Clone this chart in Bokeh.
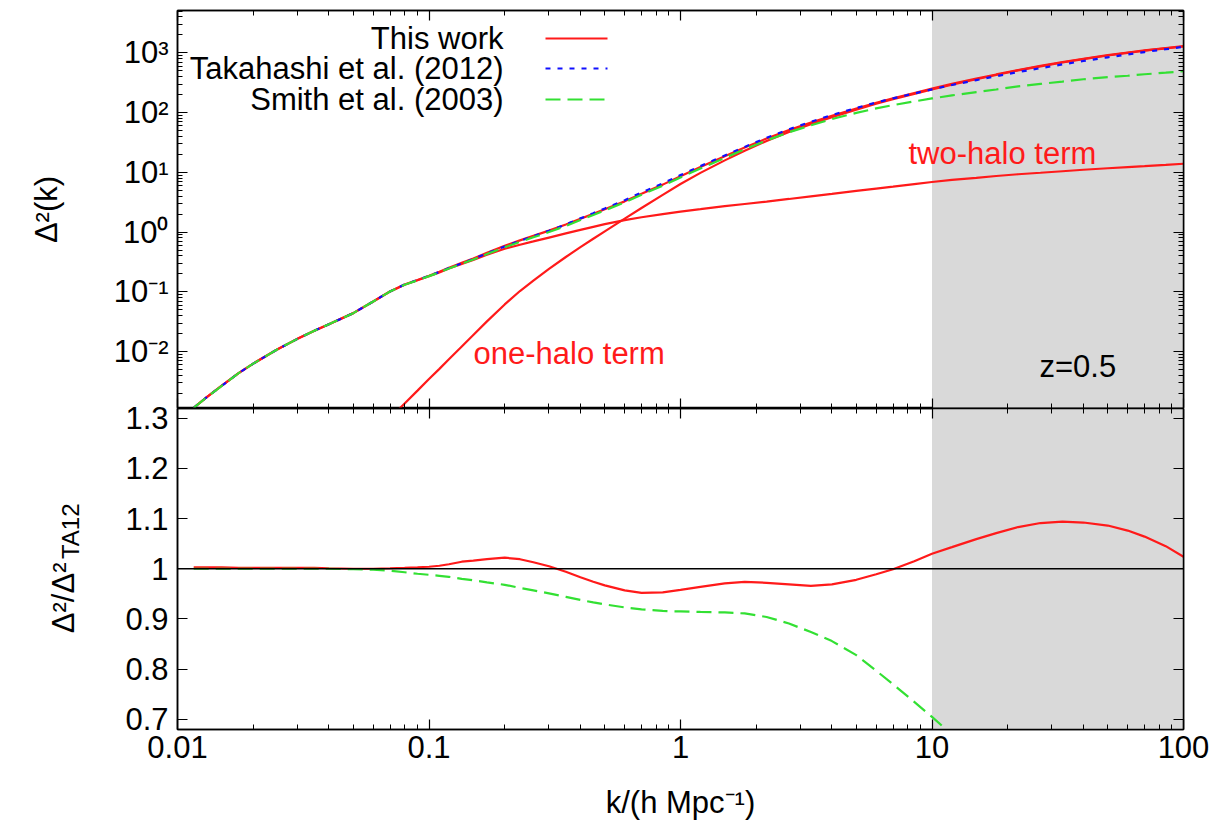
import math
from bokeh.plotting import figure
from bokeh.models import (Range1d, FixedTicker, LogAxis, LinearAxis, BoxAnnotation,
                          Span, Label, Arrow, CustomJSTickFormatter)
from bokeh.layouts import column, row
from bokeh.embed import file_html
from bokeh.resources import INLINE

# ---------------- data ----------------
k = [0.0116, 0.013, 0.015, 0.0175, 0.02, 0.025, 0.03, 0.035, 0.04, 0.05,
     0.06, 0.07, 0.08, 0.09, 0.1, 0.11, 0.12, 0.135, 0.15, 0.17,
     0.2, 0.23, 0.26, 0.3, 0.35, 0.4, 0.45, 0.5, 0.6, 0.7,
     0.85, 1.0, 1.2, 1.5, 1.8, 2.2, 2.7, 3.3, 4.0, 5.0,
     6.0, 7.0, 8.5, 10.0, 12.0, 15.0, 18.0, 22.0, 27.0, 33.0,
     40.0, 50.0, 60.0, 70.0, 85.0, 100.0]

d2_takahashi = [0.00115, 0.0017, 0.00269, 0.00437, 0.00631, 0.011, 0.0164, 0.0224, 0.0288, 0.0442,
                0.0692, 0.102, 0.133, 0.158, 0.186, 0.216, 0.251, 0.302, 0.357, 0.442,
                0.578, 0.716, 0.857, 1.057, 1.349, 1.702, 2.08, 2.495, 3.428, 4.624,
                6.561, 9.016, 12.74, 19.23, 26.73, 38.02, 52.72, 70.47, 91.41, 119.9,
                147.9, 173.8, 209.9, 245.5, 290.4, 350.8, 407.4, 478.6, 555.9, 642.7,
                732.8, 845.3, 944.1, 1035.0, 1153.0, 1265.0]

ratio_this_work = [1.003, 1.003, 1.003, 1.002, 1.002, 1.002, 1.002, 1.002, 1.001, 1.000,
                   1.000, 1.001, 1.002, 1.003, 1.004, 1.006, 1.009, 1.014, 1.016, 1.019,
                   1.022, 1.019, 1.013, 1.005, 0.994, 0.983, 0.974, 0.967, 0.957, 0.952,
                   0.953, 0.958, 0.964, 0.971, 0.974, 0.972, 0.969, 0.966, 0.969, 0.978,
                   0.989, 0.999, 1.015, 1.030, 1.043, 1.059, 1.071, 1.083, 1.091, 1.094,
                   1.092, 1.086, 1.076, 1.064, 1.045, 1.024]

ratio_smith = [1.000, 1.000, 1.000, 1.000, 1.000, 1.000, 1.000, 1.000, 1.000, 0.999,
               0.998, 0.996, 0.993, 0.990, 0.988, 0.986, 0.984, 0.980, 0.977, 0.973,
               0.968, 0.962, 0.957, 0.951, 0.944, 0.938, 0.933, 0.929, 0.923, 0.919,
               0.916, 0.915, 0.914, 0.913, 0.911, 0.904, 0.891, 0.874, 0.856, 0.828,
               0.797, 0.770, 0.735, 0.705, 0.670, 0.630, 0.600, 0.575, 0.545, 0.515,
               0.495, 0.465, 0.440, 0.425, 0.405, 0.390]

d2_two_halo = [0.00115, 0.0017, 0.0027, 0.00437, 0.00632, 0.011, 0.0164, 0.0224, 0.0289, 0.0442,
               0.0692, 0.1016, 0.1323, 0.1568, 0.1834, 0.2124, 0.246, 0.294, 0.344, 0.418,
               0.529, 0.617, 0.70, 0.813, 0.955, 1.096, 1.23, 1.365, 1.592, 1.778,
               2.004, 2.213, 2.427, 2.723, 2.965, 3.258, 3.597, 3.981, 4.375, 4.898,
               5.37, 5.794, 6.383, 6.918, 7.499, 8.128, 8.71, 9.333, 9.886, 10.47,
               11.09, 11.75, 12.3, 12.74, 13.34, 13.96]

k_one_halo = [0.07, 0.08, 0.09, 0.1, 0.11, 0.12, 0.135, 0.15, 0.17, 0.2,
              0.23, 0.26, 0.3, 0.35, 0.4, 0.45, 0.5, 0.6, 0.7, 0.85,
              1.0, 1.2, 1.5, 1.8, 2.2, 2.7, 3.3, 4.0, 5.0, 6.0,
              7.0, 8.5, 10.0, 12.0, 15.0, 18.0, 22.0, 27.0, 33.0, 40.0,
              50.0, 60.0, 70.0, 85.0, 100.0]
d2_one_halo = [0.000776, 0.00136, 0.00223, 0.00348, 0.00516, 0.00746, 0.01222, 0.01905, 0.03214, 0.0618,
               0.1035, 0.1549, 0.2427, 0.3846, 0.5623, 0.7762, 1.033, 1.690, 2.541, 4.217,
               6.397, 9.83, 15.92, 23.07, 33.65, 47.42, 63.97, 84.14, 112.2, 140.9,
               167.9, 206.5, 246.0, 295.1, 363.1, 427.6, 509.3, 597.0, 691.8, 788.9,
               905.7, 1003.5, 1089.0, 1191.0, 1281.0]

# top-panel curves of this work and of Smith et al. follow from the ratios
d2_this_work = [t * r for t, r in zip(d2_takahashi, ratio_this_work)]
d2_smith = [t * r for t, r in zip(d2_takahashi, ratio_smith)]

x_ticks = [0.01, 0.1, 1, 10, 100]
x_tick_labels = ["0.01", "0.1", "1", "10", "100"]
y_top_ticks = [0.01, 0.1, 1, 10, 100, 1000]
y_top_labels = ["10\u207b\u00b2", "10\u207b\u00b9", "10\u2070", "10\u00b9", "10\u00b2", "10\u00b3"]
y_bot_ticks = [0.7, 0.8, 0.9, 1.0, 1.1, 1.2, 1.3]
y_bot_labels = ["0.7", "0.8", "0.9", "1", "1.1", "1.2", "1.3"]
shade_start, shade_end = 10, 100
legend_names = ["This work", "Takahashi et al. (2012)", "Smith et al. (2003)"]

# ---------------- styles ----------------
FONT = "Liberation Sans"
FS = "31px"
RED, BLUE, GREEN = "#ff1a1a", "#1010ff", "#33e033"
GREY = "#d9d9d9"
BLUE_DASH, GREEN_DASH = "5 7", "15 7"
LW = 2.2

minor_x = [m * 10.0 ** e for e in range(-2, 2) for m in range(2, 10)]
minor_y = [m * 10.0 ** e for e in range(-3, 4) for m in range(2, 10)]
blank = CustomJSTickFormatter(code="return ''")


def style_axis(ax, labels=True):
    ax.major_tick_in = 10
    ax.major_tick_out = 0
    ax.minor_tick_in = 5
    ax.minor_tick_out = 0
    ax.axis_line_width = 1.5
    ax.major_tick_line_width = 1.2
    ax.minor_tick_line_width = 1.0
    ax.major_label_text_font = FONT
    ax.major_label_text_color = "black"
    if labels:
        ax.major_label_text_font_size = FS
    else:
        ax.formatter = blank
        ax.major_label_text_font_size = "0px"
        ax.major_label_standoff = 0


GUT = 90            # left strip that holds the rotated y titles
W = 1216 - GUT
SEAM = 8            # bottom canvas reaches this far over the top one (transparent)
x_range = Range1d(0.01, 100)

# ---------------- top panel ----------------
top = figure(width=W, height=408, x_axis_type="log", y_axis_type="log",
             x_range=x_range, y_range=Range1d(1.12e-3, 5.13e3),
             output_backend="svg", toolbar_location=None,
             min_border_left=177 - GUT, min_border_right=33, min_border_top=10, min_border_bottom=0)
top.grid.visible = False
top.outline_line_color = "black"
top.outline_line_width = 1.5
top.background_fill_color = "white"
top.border_fill_color = "white"

top.xaxis.ticker = FixedTicker(ticks=x_ticks, minor_ticks=minor_x)
style_axis(top.xaxis[0], labels=False)
top.yaxis.ticker = FixedTicker(ticks=y_top_ticks, minor_ticks=minor_y)
style_axis(top.yaxis[0])
top.yaxis.major_label_overrides = dict(zip(y_top_ticks, y_top_labels))
top.yaxis.major_label_standoff = 9

ax_r = LogAxis(ticker=FixedTicker(ticks=y_top_ticks, minor_ticks=minor_y))
style_axis(ax_r, labels=False)
top.add_layout(ax_r, "right")
ax_t = LogAxis(ticker=FixedTicker(ticks=x_ticks, minor_ticks=minor_x))
style_axis(ax_t, labels=False)
top.add_layout(ax_t, "above")

top.add_layout(BoxAnnotation(left=shade_start, right=shade_end, fill_color=GREY,
                             fill_alpha=1.0, line_color=None, level="underlay"))

top.line(k, d2_this_work, line_color=RED, line_width=LW)
top.line(k_one_halo, d2_one_halo, line_color=RED, line_width=LW)
top.line(k, d2_two_halo, line_color=RED, line_width=LW)
top.line(k, d2_takahashi, line_color=BLUE, line_width=LW, line_dash=BLUE_DASH)
top.line(k, d2_smith, line_color=GREEN, line_width=LW, line_dash=GREEN_DASH)

# legend (text on the left, sample line on the right, as in the original)
leg_y = [370, 340, 309]
leg_colors = [RED, BLUE, GREEN]
leg_dash = ["solid", BLUE_DASH, GREEN_DASH]
for name, yy, c, d in zip(legend_names, leg_y, leg_colors, leg_dash):
    top.add_layout(Label(x=326, y=yy, x_units="screen", y_units="screen", text=name,
                         text_align="right", text_baseline="middle",
                         text_font=FONT, text_font_size=FS, text_color="black"))
    top.add_layout(Arrow(x_start=368, y_start=yy, x_end=430, y_end=yy,
                         start_units="screen", end_units="screen", end=None,
                         line_color=c, line_width=LW, line_dash=d))

top.add_layout(Label(x=731, y=255, x_units="screen", y_units="screen", text="two-halo term",
                     text_align="left", text_baseline="middle",
                     text_font=FONT, text_font_size=FS, text_color=RED))
top.add_layout(Label(x=296, y=55, x_units="screen", y_units="screen", text="one-halo term",
                     text_align="left", text_baseline="middle",
                     text_font=FONT, text_font_size=FS, text_color=RED))
top.add_layout(Label(x=862, y=42, x_units="screen", y_units="screen", text="z=0.5",
                     text_align="left", text_baseline="middle",
                     text_font=FONT, text_font_size=FS, text_color="black"))

# ---------------- bottom panel ----------------
bot = figure(width=W, height=418 + SEAM, x_axis_type="log",
             x_range=x_range, y_range=Range1d(0.68, 1.319),
             output_backend="svg", toolbar_location=None,
             min_border_left=177 - GUT, min_border_right=33, min_border_top=SEAM, min_border_bottom=97,
             margin=(-SEAM, 0, 0, 0))
bot.grid.visible = False
bot.outline_line_color = "black"
bot.outline_line_width = 1.5
bot.background_fill_color = "white"
bot.border_fill_color = None
bot.border_fill_alpha = 0

bot.xaxis.ticker = FixedTicker(ticks=x_ticks, minor_ticks=minor_x)
style_axis(bot.xaxis[0])
bot.xaxis.major_label_overrides = dict(zip(x_ticks, x_tick_labels))
bot.xaxis.major_label_standoff = 6
bot.xaxis.axis_label = "k/(h Mpc\u207b\u00b9)"
bot.xaxis.axis_label_text_font = FONT
bot.xaxis.axis_label_text_font_size = FS
bot.xaxis.axis_label_text_font_style = "normal"
bot.xaxis.axis_label_text_color = "black"
bot.xaxis.axis_label_standoff = 24

bot.yaxis.ticker = FixedTicker(ticks=y_bot_ticks, minor_ticks=[])
style_axis(bot.yaxis[0])
bot.yaxis.major_label_overrides = dict(zip(y_bot_ticks, y_bot_labels))
bot.yaxis.major_label_standoff = 9

bx_r = LinearAxis(ticker=FixedTicker(ticks=y_bot_ticks, minor_ticks=[]))
style_axis(bx_r, labels=False)
bot.add_layout(bx_r, "right")
bx_t = LogAxis(ticker=FixedTicker(ticks=x_ticks, minor_ticks=minor_x))
style_axis(bx_t, labels=False)
bot.add_layout(bx_t, "above")

bot.add_layout(BoxAnnotation(left=shade_start, right=shade_end, fill_color=GREY,
                             fill_alpha=1.0, line_color=None, level="underlay"))
bot.add_layout(Span(location=1.0, dimension="width", line_color="black", line_width=1.3))

bot.line(k, ratio_this_work, line_color=RED, line_width=LW)
bot.line(k, ratio_smith, line_color=GREEN, line_width=LW, line_dash=GREEN_DASH)

# ---------------- left strip with the rotated y titles ----------------
H = 826
gut = figure(width=GUT, height=H, x_range=Range1d(0, 1), y_range=Range1d(0, 1),
             output_backend="svg", toolbar_location=None,
             x_axis_location=None, y_axis_location=None,
             min_border_left=0, min_border_right=0, min_border_top=0, min_border_bottom=0)
gut.grid.visible = False
gut.outline_line_color = None
gut.background_fill_color = "white"
gut.border_fill_color = "white"

gut.add_layout(Label(x=46, y=H - 209, x_units="screen", y_units="screen", text="\u0394\u00b2(k)",
                     angle=math.pi / 2, text_align="center", text_baseline="alphabetic",
                     text_font=FONT, text_font_size=FS, text_color="black"))
gut.add_layout(Label(x=63, y=H - 562, x_units="screen", y_units="screen", text="\u0394\u00b2/\u0394\u00b2",
                     angle=math.pi / 2, text_align="right", text_baseline="alphabetic",
                     text_font=FONT, text_font_size=FS, text_color="black"))
gut.add_layout(Label(x=70, y=H - 503, x_units="screen", y_units="screen", text="TA12",
                     angle=math.pi / 2, text_align="right", text_baseline="alphabetic",
                     text_font=FONT, text_font_size="24px", text_color="black"))

layout = row(gut, column(top, bot, spacing=0), spacing=0)
open("out.html", "w").write(file_html(layout, INLINE))
